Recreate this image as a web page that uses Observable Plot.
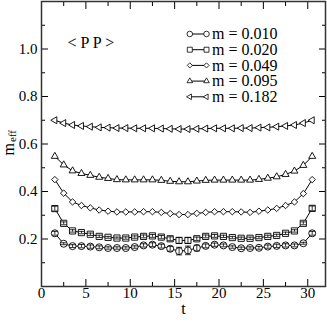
<!DOCTYPE html>
<html>
<head>
<meta charset="utf-8">
<script src="https://cdn.jsdelivr.net/npm/d3@7"></script>
<script src="https://cdn.jsdelivr.net/npm/@observablehq/plot@0.6"></script>
<style>
  html, body { margin: 0; padding: 0; background: #fff; }
  #chart svg { display: block; }
</style>
</head>
<body>
<div id="chart"></div>
<script>
const t = [1.5,2.5,3.5,4.5,5.5,6.5,7.5,8.5,9.5,10.5,11.5,12.5,13.5,14.5,15.5,16.5,17.5,18.5,19.5,20.5,21.5,22.5,23.5,24.5,25.5,26.5,27.5,28.5,29.5,30.5];

const masses = ["0.010", "0.020", "0.049", "0.095", "0.182"];

const m010 = [0.224,0.180,0.170,0.170,0.168,0.165,0.162,0.162,0.162,0.166,0.173,0.176,0.170,0.159,0.149,0.152,0.162,0.171,0.176,0.173,0.166,0.161,0.162,0.163,0.168,0.171,0.173,0.173,0.182,0.224];
const m020 = [0.328,0.266,0.234,0.227,0.220,0.211,0.207,0.204,0.204,0.208,0.211,0.213,0.208,0.201,0.194,0.194,0.201,0.211,0.213,0.211,0.206,0.203,0.203,0.206,0.211,0.215,0.224,0.234,0.266,0.329];
const m049 = [0.450,0.393,0.356,0.341,0.331,0.322,0.317,0.314,0.314,0.314,0.315,0.315,0.312,0.307,0.303,0.303,0.308,0.312,0.315,0.315,0.315,0.314,0.312,0.317,0.322,0.329,0.341,0.356,0.391,0.450];
const m095 = [0.548,0.512,0.487,0.476,0.468,0.460,0.455,0.450,0.449,0.449,0.449,0.449,0.447,0.443,0.441,0.441,0.444,0.447,0.448,0.448,0.448,0.448,0.448,0.451,0.456,0.462,0.472,0.486,0.510,0.548];
const m182 = [0.700,0.688,0.680,0.676,0.673,0.670,0.669,0.667,0.667,0.666,0.666,0.666,0.665,0.664,0.663,0.663,0.664,0.665,0.666,0.666,0.666,0.667,0.667,0.669,0.670,0.673,0.676,0.680,0.688,0.700];

const err010 = [0.008,0.004,0.006,0.007,0.007,0.006,0.005,0.005,0.005,0.005,0.007,0.008,0.008,0.010,0.016,0.018,0.012,0.008,0.007,0.006,0.005,0.005,0.005,0.006,0.007,0.007,0.007,0.006,0.004,0.008];
const err020 = [0.010,0.006,0.005,0.005,0.005,0.005,0.004,0.004,0.005,0.005,0.006,0.006,0.007,0.008,0.012,0.012,0.007,0.006,0.006,0.005,0.005,0.005,0.005,0.005,0.005,0.005,0.005,0.005,0.006,0.010];

const xMajor = [0, 5, 10, 15, 20, 25, 30];
const xMinor = [2.5, 7.5, 12.5, 17.5, 22.5, 27.5];
const yMajor = [0.2, 0.4, 0.6, 0.8, 1.0];
const yMinor = [0.1, 0.3, 0.5, 0.7, 0.9, 1.1];

const triangleLeft = {
  draw(context, size) {
    const y = -Math.sqrt(size / (Math.sqrt(3) * 3));
    const s = Math.sqrt(3) * y;
    context.moveTo(y * 2, 0);
    context.lineTo(-y, s);
    context.lineTo(-y, -s);
    context.closePath();
  }
};
const cap = { draw(context) { context.moveTo(-3, 0); context.lineTo(3, 0); } };
const legLine = { draw(context) { context.moveTo(-8.3, 0); context.lineTo(8.3, 0); } };

const seriesValues = [m010, m020, m049, m095, m182];
const symbols = ["circle", "square", "diamond2", "triangle", triangleLeft];
const radii = [3.5, 3.5, 2.9, 2.6, 2.6];
const errors = [err010, err020, null, null, null];

const font = "Liberation Serif";

const marks = [];
seriesValues.forEach((vals, k) => {
  const data = t.map((tt, i) => ({t: tt, v: vals[i], e: errors[k] ? errors[k][i] : 0}));
  marks.push(Plot.line(data, {x: "t", y: "v", stroke: "black", strokeWidth: 1}));
  marks.push(Plot.dot(data, {x: "t", y: "v", symbol: () => symbols[k], r: radii[k], fill: "white", stroke: "black", strokeWidth: 0.9}));
  if (errors[k]) {
    marks.push(Plot.ruleX(data, {x: "t", y1: d => d.v - d.e, y2: d => d.v + d.e, stroke: "black", strokeWidth: 0.8}));
    marks.push(Plot.dot(data, {x: "t", y: d => d.v - d.e, symbol: cap, fill: "none", stroke: "black", strokeWidth: 0.8}));
    marks.push(Plot.dot(data, {x: "t", y: d => d.v + d.e, symbol: cap, fill: "none", stroke: "black", strokeWidth: 0.8}));
  }
  // legend entry
  const dy = 32.5 + k * 15.7;
  const lr = radii[k] * 0.8;
  marks.push(Plot.dot([masses[k]], {frameAnchor: "top-left", dx: 156.7, dy, symbol: legLine, fill: "none", stroke: "black", strokeWidth: 1}));
  marks.push(Plot.dot([masses[k]], {frameAnchor: "top-left", dx: 148.3, dy, symbol: () => symbols[k], r: lr, fill: "white", stroke: "black", strokeWidth: 0.8}));
  marks.push(Plot.dot([masses[k]], {frameAnchor: "top-left", dx: 165, dy, symbol: () => symbols[k], r: lr, fill: "white", stroke: "black", strokeWidth: 0.8}));
  marks.push(Plot.text([masses[k]], {frameAnchor: "top-left", dx: 170.5, dy, text: d => "m = " + d, textAnchor: "start", lineAnchor: "middle", fontSize: 16, fontFamily: font, fill: "black"}));
});

const chart = Plot.plot({
  width: 327,
  height: 324,
  marginLeft: 41,
  marginRight: 2,
  marginTop: 1,
  marginBottom: 38,
  style: {fontFamily: font, background: "white"},
  x: {domain: [0, 32], label: null},
  y: {domain: [0, 1.2], label: null},
  marks: [
    // inward ticks on all sides
    Plot.axisX({ticks: xMajor, anchor: "bottom", tickSize: -7, tickFormat: () => "", label: null}),
    Plot.axisX({ticks: xMinor, anchor: "bottom", tickSize: -4, tickFormat: () => "", label: null}),
    Plot.axisX({ticks: xMajor, anchor: "top", tickSize: -7, tickFormat: () => "", label: null}),
    Plot.axisX({ticks: xMinor, anchor: "top", tickSize: -4, tickFormat: () => "", label: null}),
    Plot.axisY({ticks: yMajor, anchor: "left", tickSize: -7, tickFormat: () => "", label: null}),
    Plot.axisY({ticks: yMinor, anchor: "left", tickSize: -4, tickFormat: () => "", label: null}),
    Plot.axisY({ticks: yMajor, anchor: "right", tickSize: -7, tickFormat: () => "", label: null}),
    Plot.axisY({ticks: yMinor, anchor: "right", tickSize: -4, tickFormat: () => "", label: null}),
    // tick labels
    Plot.axisX({ticks: xMajor, anchor: "bottom", tickSize: 0, tickPadding: 1, fontSize: 15, fontFamily: font, label: null}),
    Plot.axisY({ticks: yMajor, anchor: "left", tickSize: 0, tickPadding: 4, fontSize: 15, fontFamily: font, tickFormat: d3.format(".1f"), label: null}),
    Plot.frame({stroke: "#333", strokeWidth: 1.5}),
    ...marks,
    Plot.text(["< P P >"], {frameAnchor: "top-left", dx: 26, dy: 41.7, textAnchor: "start", lineAnchor: "middle", fontSize: 16, fontFamily: font, fill: "black"}),
    Plot.text(["t"], {frameAnchor: "bottom", dy: 22, lineAnchor: "middle", fontSize: 16, fontFamily: font, fill: "black"}),
    Plot.text(["m"], {frameAnchor: "left", dx: -33, dy: 11.5, rotate: -90, lineAnchor: "middle", fontSize: 16, fontFamily: font, fill: "black"}),
    Plot.text(["eff"], {frameAnchor: "left", dx: -29, dy: -2, rotate: -90, lineAnchor: "middle", fontSize: 11, fontFamily: font, fill: "black"})
  ]
});
document.getElementById("chart").appendChild(chart);
</script>
</body>
</html>
